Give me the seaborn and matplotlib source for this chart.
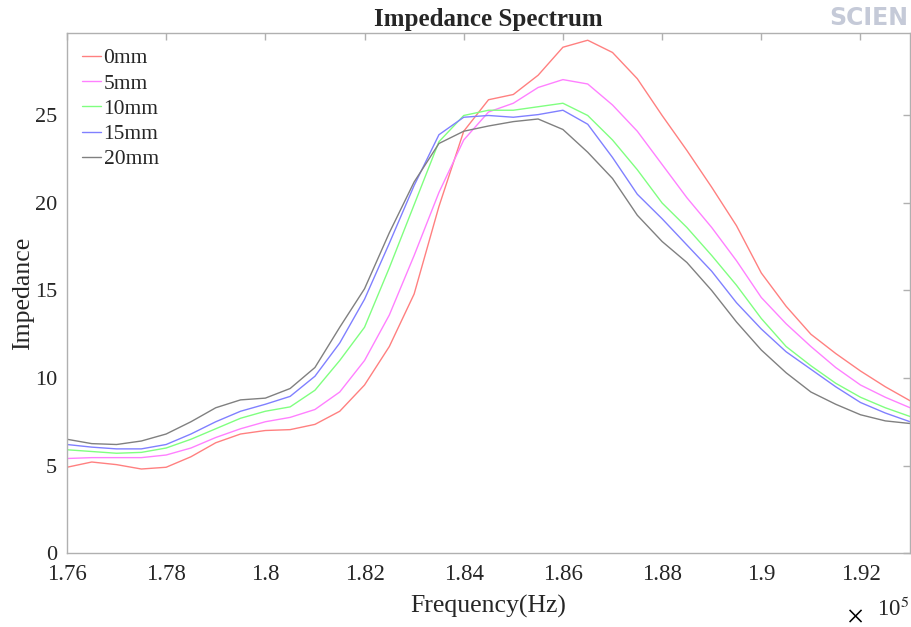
import numpy as np
import pandas as pd
import seaborn as sns
import matplotlib
matplotlib.use("Agg")
import matplotlib.pyplot as plt

# frequency in units of 1e5 Hz
freq = [1.760, 1.765, 1.770, 1.775, 1.780, 1.785, 1.790, 1.795, 1.800, 1.805,
        1.810, 1.815, 1.820, 1.825, 1.830, 1.835, 1.840, 1.845, 1.850, 1.855,
        1.860, 1.865, 1.870, 1.875, 1.880, 1.885, 1.890, 1.895, 1.900, 1.905,
        1.910, 1.915, 1.920, 1.925, 1.930]

z_0mm = [4.9, 5.2, 5.05, 4.8, 4.9, 5.5, 6.3, 6.8, 7.0, 7.05,
         7.35, 8.1, 9.6, 11.8, 14.8, 19.8, 24.1, 25.9, 26.2, 27.3,
         28.9, 29.3, 28.6, 27.1, 25.0, 23.0, 20.9, 18.7, 16.0, 14.1,
         12.5, 11.4, 10.4, 9.5, 8.7]
z_5mm = [5.4, 5.45, 5.45, 5.45, 5.6, 6.0, 6.6, 7.1, 7.5, 7.75,
         8.2, 9.2, 11.0, 13.6, 17.0, 20.6, 23.6, 25.2, 25.7, 26.6,
         27.05, 26.8, 25.6, 24.1, 22.2, 20.3, 18.6, 16.7, 14.6, 13.1,
         11.8, 10.6, 9.6, 8.9, 8.3]
z_10mm = [5.9, 5.8, 5.7, 5.75, 6.0, 6.5, 7.1, 7.7, 8.1, 8.35,
          9.3, 11.0, 12.9, 16.3, 19.9, 23.5, 25.0, 25.3, 25.3, 25.5,
          25.7, 25.0, 23.6, 21.9, 20.0, 18.6, 17.0, 15.3, 13.4, 11.8,
          10.7, 9.7, 8.9, 8.3, 7.8]
z_15mm = [6.2, 6.05, 5.95, 5.95, 6.2, 6.8, 7.5, 8.1, 8.5, 8.95,
          10.1, 12.0, 14.5, 17.7, 21.0, 23.9, 24.9, 25.0, 24.9, 25.05,
          25.3, 24.5, 22.6, 20.5, 19.1, 17.6, 16.1, 14.3, 12.8, 11.5,
          10.5, 9.5, 8.6, 8.0, 7.5]
z_20mm = [6.5, 6.25, 6.2, 6.4, 6.8, 7.5, 8.3, 8.75, 8.85, 9.4,
          10.6, 12.9, 15.1, 18.3, 21.2, 23.4, 24.1, 24.4, 24.65, 24.8,
          24.2, 22.9, 21.4, 19.3, 17.8, 16.6, 15.0, 13.2, 11.6, 10.3,
          9.2, 8.5, 7.9, 7.55, 7.4]

labels = ["0mm", "5mm", "10mm", "15mm", "20mm"]
series = [z_0mm, z_5mm, z_10mm, z_15mm, z_20mm]
colors = ["#ff8080", "#ff80ff", "#80ff80", "#8080ff", "#808080"]

df = pd.concat([pd.DataFrame({"freq": freq, "imp": s, "dist": lab})
                for lab, s in zip(labels, series)], ignore_index=True)

sns.set_style("white")
plt.rcParams["font.family"] = ["Liberation Serif", "DejaVu Serif"]
plt.rcParams["mathtext.fontset"] = "stix"

fig = plt.figure(figsize=(9.11, 6.27), dpi=100)
ax = fig.add_axes([0.0735, 0.118, 0.9255, 0.829])

sns.lineplot(data=df, x="freq", y="imp", hue="dist", hue_order=labels,
             palette=colors, linewidth=1.0, ax=ax)

ax.set_xlim(1.76, 1.93)
ax.set_ylim(0, 29.7)
ax.set_xticks([1.76, 1.78, 1.8, 1.82, 1.84, 1.86, 1.88, 1.9, 1.92])
ax.set_xticklabels(["1.76", "1.78", "1.8", "1.82", "1.84", "1.86", "1.88", "1.9", "1.92"])
ax.set_yticks([0, 5, 10, 15, 20, 25])

for sp in ax.spines.values():
    sp.set_color("#b0b0b0")
    sp.set_linewidth(1.0)
ax.tick_params(direction="in", length=5, width=1, color="#b0b0b0",
               labelsize=16.5, labelcolor="#262626", top=True, right=True)
ax.tick_params(axis="x", pad=8)
ax.tick_params(axis="y", pad=7, labelsize=16)

ax.set_xlabel("Frequency(Hz)", fontsize=18.5, color="#262626", labelpad=7)
ax.set_ylabel("Impedance", fontsize=18.5, color="#262626", labelpad=1)
ax.set_title("Impedance Spectrum", fontsize=18, fontweight="bold", pad=5)

leg = ax.legend(loc="upper left", frameon=False, fontsize=15.5, handlelength=0.9,
                handletextpad=0.1, labelspacing=0.24, borderaxespad=0.3)

fig.text(0.9385, 0.0, r"$\times$", fontsize=17, ha="center", va="bottom", color="#000000")
fig.text(0.963, 0.01, r"10$^5$", fontsize=16.5, ha="left", va="bottom", color="#262626")
fig.text(0.91, 0.99, "SCIEN", fontsize=17, fontweight="bold", family="DejaVu Sans",
         color="#c5cad8", ha="left", va="top")

fig.savefig("out.png", dpi=100)
